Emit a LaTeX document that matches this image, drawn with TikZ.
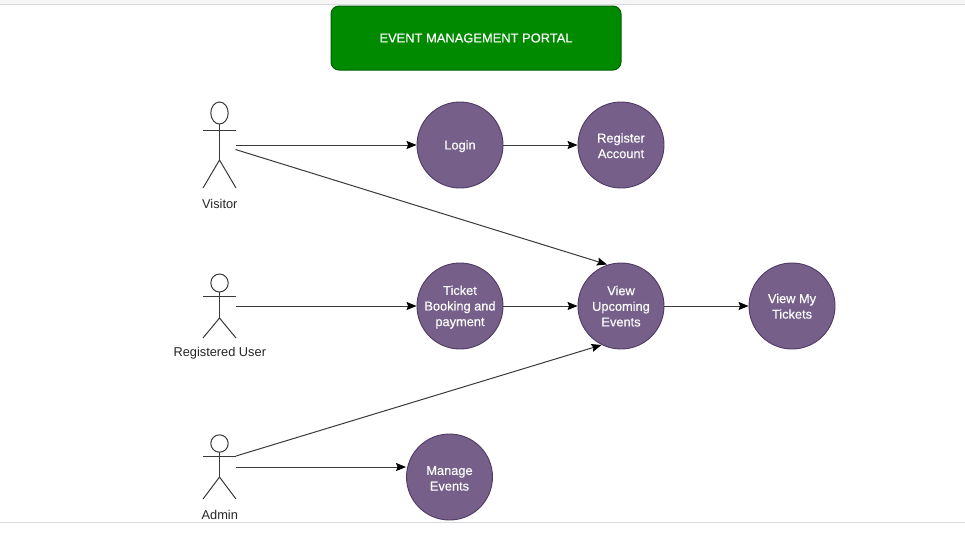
\documentclass[tikz,border=0pt]{standalone}
\usepackage{fontspec}
\setmainfont{Liberation Sans}
\newfontfamily\boldish[FakeBold=0.25]{Liberation Sans}
\usetikzlibrary{arrows.meta}
\definecolor{usecasefill}{HTML}{76608A}
\definecolor{usecaseline}{HTML}{4F3A63}
\definecolor{greenfill}{HTML}{008A00}
\definecolor{greenline}{HTML}{005F00}
\definecolor{inkgrey}{HTML}{3A3A3A}
\newcommand{\topfill}{\rule{0pt}{11.6pt}}
\newcommand{\lowfill}{\rule[-2pt]{0pt}{2pt}}
\tikzset{
  usecase/.style={circle,draw=usecaseline,fill=usecasefill,line width=0.9pt,minimum size=86pt,inner sep=0pt,text=white,align=center,font=\fontsize{12.8}{15.6}\boldish},
  actorlabel/.style={text=black!85,font=\fontsize{12.8}{14}\selectfont,inner sep=0pt},
  stick/.style={draw=inkgrey,line width=1pt},
  conn/.style={draw=inkgrey,line width=1pt,-{Stealth[length=10pt,width=8pt,inset=1.5pt,color=black]}},
}
\newcommand{\stickman}[6]{% cx, head cy, head ry, shoulder y, hip y, foot y
  \draw[stick,fill=white] (#1,#2) ellipse [x radius=8.7,y radius=#3];
  \draw[stick] (#1-16.5,#4) -- (#1+16.5,#4);
  \draw[stick] (#1,#2+#3) -- (#1,#5);
  \draw[stick] (#1-16.5,#6) -- (#1,#5) -- (#1+16.5,#6);
}
\begin{document}
\begin{tikzpicture}[x=1pt,y=-1pt]
\useasboundingbox (0,0) rectangle (965,544);
\fill[white] (0,0) rectangle (965,544);
\fill[black!4] (0,0) rectangle (965,4);
\draw[blue!20!black!15,line width=0.8pt] (0,4.3) -- (965,4.3);
\draw[blue!20!black!15,line width=0.8pt] (0,522) -- (965,522);

\node[draw=greenline,fill=greenfill,rounded corners=8pt,line width=1pt,minimum width=290pt,minimum height=64pt,inner sep=0pt,text=white,font=\fontsize{12.9}{14}\boldish] (title) at (476,38) {EVENT MANAGEMENT PORTAL};

\stickman{219.5}{113}{11}{130.5}{160}{188}
\stickman{219.5}{283}{9}{296}{318}{338}
\stickman{219.5}{443.5}{8.7}{456}{477}{499}

\node[actorlabel] (visitor) at (219.8,203.5) {Visitor};
\node[actorlabel] (registered) at (219.8,353.5) {Registered User};
\node[actorlabel] (admin) at (219.8,514.5) {Admin};

\node[usecase] (login) at (460,145) {\topfill Login};
\node[usecase] (account) at (621,145) {\topfill Register\\Account\rule[-1pt]{0pt}{1pt}};
\node[usecase] (ticket) at (460,306) {\topfill Ticket\\Booking and\\payment};
\node[usecase] (upcoming) at (621,306) {\topfill View\\Upcoming\\Events\lowfill};
\node[usecase] (mytickets) at (792,306) {\topfill View My\\Tickets\lowfill};
\node[usecase] (manage) at (449.5,477) {\topfill Manage\\Events};

\coordinate (visitorA) at (235.5,145);
\coordinate (visitorB) at (235.5,149.5);
\coordinate (regA) at (235.5,306);
\coordinate (adminA) at (236,456);
\coordinate (adminB) at (235.5,467);
\coordinate (upIn1) at (607,264.5);
\coordinate (upIn2) at (601.5,345);

\draw[conn] (visitorA) -- (login.west |- visitorA);
\draw[conn] (login) -- (account);
\draw[conn] (visitorB) -- (upIn1);
\draw[conn] (regA) -- (ticket.west |- regA);
\draw[conn] (ticket) -- (upcoming);
\draw[conn] (upcoming) -- (mytickets);
\draw[conn] (adminA) -- (upIn2);
\draw[conn] (adminB) -- (manage.west |- adminB);
\end{tikzpicture}
\end{document}
